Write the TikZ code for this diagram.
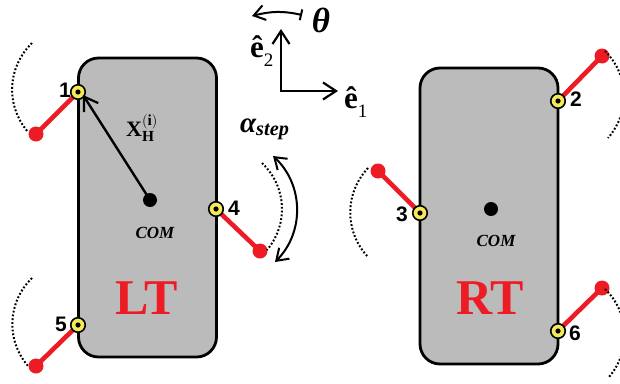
\documentclass[tikz,border=0pt]{standalone}
\usepackage{fontspec}
\setmainfont{Liberation Serif}
\newfontfamily\numfont{Liberation Sans}
\usetikzlibrary{arrows.meta,bending}
\definecolor{cBody}{HTML}{BBBBBB}
\definecolor{cLeg}{HTML}{ED1C24}
\definecolor{cJoint}{HTML}{F5E95A}
\newcommand{\unitvec}[1]{ê\raisebox{-9pt}{\normalfont\fontsize{19}{19}\selectfont #1}}

\begin{document}
\begin{tikzpicture}[
  x=1pt, y=-1pt,
  >={Straight Barb[length=13pt,width=17pt,line width=2.2pt]},
  body/.style={rectangle, rounded corners=20pt, draw=black, line width=2.8pt, fill=cBody,
               minimum width=138pt, minimum height=#1, inner sep=0pt},
  joint/.style={circle, draw=black, line width=1.6pt, fill=cJoint, minimum size=14.5pt, inner sep=0pt,
                path picture={\fill[black] (path picture bounding box.center) circle[radius=2.6pt];}},
  foot/.style={circle, fill=cLeg, minimum size=15pt, inner sep=0pt},
  leg/.style={line width=4.6pt, draw=cLeg},
  com/.style={circle, fill=black, minimum size=14pt, inner sep=0pt},
  swing/.style={line width=2pt, dash pattern=on 1.8pt off 2pt},
  vec/.style={->, line width=2.4pt},
  num/.style={font=\numfont\bfseries\fontsize{21}{21}\selectfont, inner sep=0pt},
  coml/.style={font=\bfseries\itshape\fontsize{17}{17}\selectfont, inner sep=0pt},
  side/.style={font=\bfseries\fontsize{50}{50}\selectfont, text=cLeg, inner sep=0pt},
  sym/.style={font=\bfseries\fontsize{31}{31}\selectfont, inner sep=0pt},
]
\useasboundingbox (0,0) rectangle (620,383);

% ---- bodies ----
\node[body=299pt] (lt) at (147.5,207.5) {};
\node[body=296pt] (rt) at (489,216) {};
\node[side] (ltlab) at (147,298) {LT};
\node[side] (rtlab) at (490,298) {RT};

% ---- centre of mass ----
\node[com] (coml) at (150,200) {};
\node[com] (comr) at (491,209) {};
\node[coml] (comltxt) at (155,233) {COM};
\node[coml] (comrtxt) at (496,241) {COM};

% ---- legs ----
\foreach \n/\hx/\hy/\fx/\fy/\ax/\ay/\bx/\by/\lx/\ly in {
  1/78/92/36/134/32/43/28/132/65/90,
  5/78/325/36/366/32/278/28/366/61/324,
  3/420/213/378/171/368/168/368/257/402/214}
{
  \node[foot] (f\n) at (\fx,\fy) {};
  \draw[leg] (\hx,\hy) -- (f\n.center);
  \node[joint] (h\n) at (\hx,\hy) {};
  \node[num] (n\n) at (\lx,\ly) {\n};
  \coordinate (a\n) at (\ax,\ay);
  \coordinate (b\n) at (\bx,\by);
  \draw[swing] (a\n) to[bend right=43] (b\n);
}
\foreach \n/\hx/\hy/\fx/\fy/\ax/\ay/\bx/\by/\lx/\ly in {
  4/216/209/260/251/262/163/267/250/234/208,
  2/558/101/602/56/605/51/608/138/576/99,
  6/558/331/602/288/605/289/609/377/575/333}
{
  \node[foot] (f\n) at (\fx,\fy) {};
  \draw[leg] (\hx,\hy) -- (f\n.center);
  \node[joint] (h\n) at (\hx,\hy) {};
  \node[num] (n\n) at (\lx,\ly) {\n};
  \coordinate (a\n) at (\ax,\ay);
  \coordinate (b\n) at (\bx,\by);
  \draw[swing] (a\n) to[bend left=43] (b\n);
}

% ---- position vector ----
\coordinate (xtip) at (83,95);
\draw[vec] (coml.center) -- (xtip);
\node[font=\fontsize{22}{22}\selectfont, inner sep=0pt] (xlab) at (142,128)
  {$\mathbf{X}_{\mathbf{H}}^{(\mathbf{i})}$};

% ---- axes ----
\coordinate (orig) at (281,91);
\coordinate (e1tip) at (338,91);
\coordinate (e2tip) at (281,29);
\draw[<->, line width=2.4pt, line join=miter] (e2tip) -- (orig) -- (e1tip);
\node[sym, anchor=base west] (e1lab) at (344,108) {\unitvec{1}};
\node[sym, anchor=base west] (e2lab) at (250,57) {\unitvec{2}};

% ---- rotation ----
\coordinate (thstart) at (302,15);
\coordinate (thend) at (252,16);
\draw[{Bar[width=11pt,line width=2pt]}-{Straight Barb[length=11pt,width=15pt,line width=2pt]}, line width=2pt] (thstart) to[bend right=14] (thend);
\node[font=\bfseries\itshape\fontsize{35}{35}\selectfont, inner sep=0pt] (thlab) at (321,20) {θ};

% ---- step angle ----
\coordinate (stepa) at (273,156);
\coordinate (stepb) at (275,262);
\draw[{Straight Barb[length=11pt,width=15pt,line width=2pt]}-{Straight Barb[length=11pt,width=15pt,line width=2pt]}, line width=2pt] (stepa) to[bend left=48] (stepb);
\node[font=\bfseries\itshape\fontsize{29}{29}\selectfont, inner sep=0pt, anchor=base west] (alab) at (240,132)
  {α\textsubscript{\normalfont\bfseries\itshape step}};
\end{tikzpicture}
\end{document}
